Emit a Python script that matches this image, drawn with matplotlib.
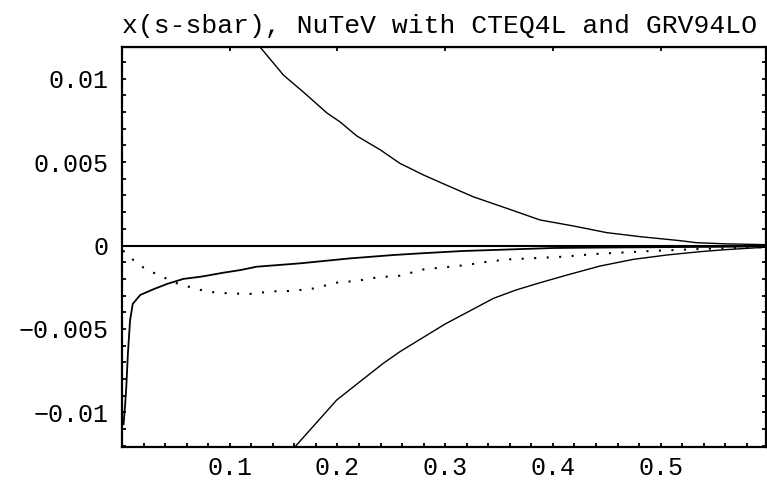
import matplotlib
matplotlib.use("Agg")
import matplotlib.pyplot as plt

# upper band edge
upper_x = [0.128, 0.150, 0.170, 0.190, 0.2025, 0.218, 0.240, 0.258, 0.280, 0.300,
           0.326, 0.357, 0.388, 0.419, 0.450, 0.481, 0.518, 0.533, 0.560, 0.598]
upper_y = [0.0119, 0.0102, 0.0091, 0.00795, 0.0074, 0.00656, 0.00572, 0.00492, 0.00422, 0.00365,
           0.00292, 0.00223, 0.00153, 0.00117, 0.00077, 0.00053, 0.00029, 0.00017, 0.0001, 0.00005]

# lower band edge
lower_x = [0.160, 0.1994, 0.221, 0.2427, 0.258, 0.300, 0.345, 0.366, 0.388, 0.413,
           0.4437, 0.4746, 0.5056, 0.5365, 0.560, 0.598]
lower_y = [-0.0121, -0.00925, -0.00815, -0.00705, -0.00636, -0.0047, -0.00316, -0.00266, -0.00223, -0.00177,
           -0.00123, -0.00083, -0.00057, -0.00037, -0.00025, -0.0001]

# central value
mid_x = [0.0015, 0.003, 0.004, 0.0055, 0.0075, 0.010, 0.017, 0.030, 0.042, 0.057,
         0.073, 0.082, 0.094, 0.110, 0.125, 0.165, 0.212, 0.252, 0.277, 0.316,
         0.400, 0.450, 0.500, 0.550, 0.598]
mid_y = [-0.0107, -0.0095, -0.0085, -0.0065, -0.0045, -0.0035, -0.00296, -0.0026, -0.0023, -0.002,
         -0.00187, -0.00177, -0.00163, -0.00147, -0.00127, -0.00107, -0.00077, -0.00057, -0.00047, -0.00033,
         -0.00015, -0.00012, -0.0001, -0.00008, -0.00005]

# dotted curve
dot_x = [0.001, 0.0098, 0.0195, 0.0293, 0.0395, 0.0494, 0.0596, 0.0696, 0.0794, 0.0896,
         0.0998, 0.119, 0.139, 0.1586, 0.178, 0.199, 0.2186, 0.238, 0.258, 0.280,
         0.300, 0.320, 0.339, 0.359, 0.379, 0.4097, 0.439, 0.490, 0.540, 0.598]
dot_y = [-0.0003, -0.00083, -0.0013, -0.00163, -0.00193, -0.00223, -0.00243, -0.0026, -0.00277, -0.00282,
         -0.00287, -0.0029, -0.00275, -0.00272, -0.00257, -0.00223, -0.00211, -0.0019, -0.00181, -0.00143,
         -0.0013, -0.00117, -0.00097, -0.00083, -0.00077, -0.00067, -0.00051, -0.00033, -0.0002, -0.0001]

x_labels = ["0.1", "0.2", "0.3", "0.4", "0.5"]
y_ticks = [-0.01, -0.005, 0, 0.005, 0.01]
y_labels = ["\u22120.01", "\u22120.005", "0", "0.005", "0.01"]

mono = ["Liberation Mono", "DejaVu Sans Mono"]

fig = plt.figure(figsize=(7.67, 4.80), dpi=100)
ax = fig.add_axes([0.159, 0.0694, 0.8396, 0.8327])

ax.axhline(0, color="black", lw=1.5)
ax.plot(upper_x, upper_y, color="black", lw=1.0)
ax.plot(lower_x, lower_y, color="black", lw=1.0)
ax.plot(mid_x, mid_y, color="black", lw=1.3)
ax.plot(dot_x, dot_y, color="black", lw=1.5, linestyle=(0, (1, 5)))

ax.set_xlim(0, 0.5977)
ax.set_ylim(-0.01205, 0.01189)

for s in ax.spines.values():
    s.set_linewidth(1.6)

ax.set_xticks([0.1, 0.2, 0.3, 0.4, 0.5])
ax.set_xticklabels(x_labels, family=mono, fontsize=18)
ax.set_xticks([i * 0.02 for i in range(1, 30)], minor=True)
ax.set_yticks(y_ticks)
ax.set_yticklabels(y_labels, family=mono, fontsize=18)
ax.set_yticks([i * 0.001 for i in range(-12, 12)], minor=True)
ax.tick_params(which="both", direction="in", length=3, width=1.3)
ax.tick_params(axis="x", which="both", pad=7, top=False)
ax.tick_params(axis="y", which="both", pad=10, right=False)

top = ax.secondary_xaxis("top")
top.set_xticks([0.1, 0.2, 0.3, 0.4, 0.5])
top.set_xticklabels([])
top.tick_params(direction="in", length=3, width=1.3)
right = ax.secondary_yaxis("right")
right.set_yticks([i * 0.001 for i in range(-12, 12)])
right.set_yticklabels([])
right.tick_params(direction="in", length=3, width=1.3)

ax.set_title("x(s-sbar), NuTeV with CTEQ4L and GRV94LO", family=mono, fontsize=19,
             loc="left", pad=10)

fig.savefig("out.png", dpi=100)
